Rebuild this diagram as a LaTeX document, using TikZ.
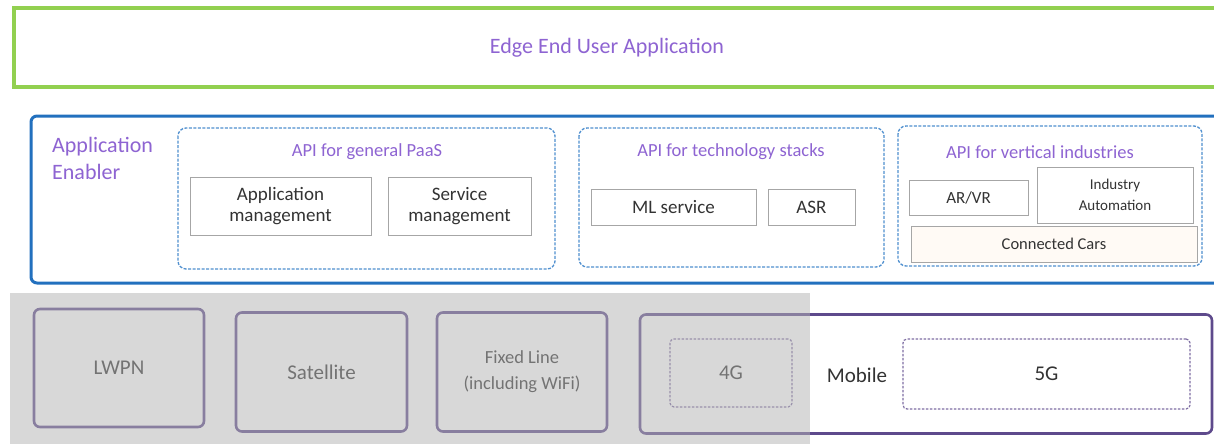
\documentclass[tikz,border=0pt]{standalone}
\usepackage{fontspec}
\setmainfont{Carlito}
\definecolor{edgegreen}{HTML}{92D050}
\definecolor{enblue}{HTML}{2270BE}
\definecolor{dashblue}{HTML}{4F8FCF}
\definecolor{lilac}{HTML}{8E64D2}
\definecolor{boxgray}{HTML}{A6A6A6}
\definecolor{netpurple}{HTML}{5E4A8C}
\definecolor{txt}{HTML}{333333}
\definecolor{overlaygray}{HTML}{B3B3B3}
\begin{document}
\begin{tikzpicture}[x=1pt,y=-1pt,
  greenbox/.style={draw=edgegreen,line width=3.4pt},
  bluebox/.style={draw=enblue,line width=3pt,rounded corners=6pt},
  apibox/.style={draw=dashblue,line width=1.3pt,dash pattern=on 3pt off 1.5pt,rounded corners=8pt},
  itembox/.style={draw=boxgray,line width=0.8pt,fill=white,inner sep=0pt},
  netbox/.style={draw=netpurple,line width=2.6pt,rounded corners=6pt,fill=white,inner sep=0pt},
  netdash/.style={draw=netpurple!80,line width=1.2pt,dash pattern=on 2.5pt off 1.5pt,rounded corners=4pt,fill=white,inner sep=0pt},
  ptitle/.style={text=lilac,font=\fontsize{22}{27}\selectfont},
  ititle/.style={text=lilac,font=\fontsize{18.5}{21}\selectfont},
  itext/.style={text=txt,font=\fontsize{19}{21}\selectfont,align=center},
  stext/.style={text=txt,font=\fontsize{15}{21}\selectfont,align=center},
  ntext/.style={text=txt,font=\fontsize{21}{26}\selectfont,align=center}]
\useasboundingbox (0,0) rectangle (1214,444);
\begin{scope}
\clip (0,0) rectangle (1214,444);
\fill[white] (0,0) rectangle (1214,444);
% top layer
\draw[greenbox] (14,8) rectangle (1240,87);
\node[ptitle] (edge) at (607,48) {Edge End User Application};
% application enabler
\draw[bluebox] (31,116) rectangle (1240,283);
\node[ptitle,align=left,anchor=west,inner sep=0pt] (enabler) at (52,158) {Application\\Enabler};
% API groups
\draw[apibox] (178,128) rectangle (555,269);
\node[ititle] (paas) at (367,152) {API for general PaaS};
\node[itembox,itext,minimum width=181pt,minimum height=58pt] (appm) at (280.5,206) {Application\\management};
\node[itembox,itext,minimum width=143pt,minimum height=58pt] (svcm) at (459.5,206) {Service\\management};
\draw[apibox] (579,128) rectangle (884,267);
\node[ititle] (tech) at (731,152) {API for technology stacks};
\node[itembox,itext,minimum width=165pt,minimum height=36pt] (ml) at (673.5,207) {ML service};
\node[itembox,itext,minimum width=87pt,minimum height=36pt] (asr) at (811.5,207) {ASR};
\draw[apibox] (898,126) rectangle (1202,266);
\node[ititle] (vert) at (1040,152) {API for vertical industries};
\node[itembox,itext,font=\fontsize{17}{20}\selectfont,minimum width=119pt,minimum height=35pt] (arvr) at (968.5,198) {AR/VR};
\node[itembox,stext,minimum width=156pt,minimum height=56pt] (ind) at (1115,195) {Industry\\Automation};
\node[itembox,stext,font=\fontsize{16.5}{20}\selectfont,fill=white!96!orange,minimum width=286pt,minimum height=36pt] (cars) at (1054,244) {Connected Cars};
% network layer
\node[netbox,ntext,minimum width=170pt,minimum height=118pt] (lwpn) at (119,368) {LWPN};
\node[netbox,ntext,minimum width=171pt,minimum height=119pt] (sat) at (321.5,372) {Satellite};
\node[netbox,ntext,font=\fontsize{18.5}{26}\selectfont,minimum width=170pt,minimum height=119pt] (fixed) at (522,372) {Fixed Line\\(including WiFi)};
\node[netbox,minimum width=572pt,minimum height=119pt] (mobile) at (926,374) {};
\node[netdash,ntext,minimum width=122pt,minimum height=68pt] (g4) at (731,373) {4G};
\node[ntext] (mob) at (857,375) {Mobile};
\node[netdash,ntext,minimum width=287pt,minimum height=70pt] (g5) at (1046.5,374) {5G};
% grey overlay
\fill[overlaygray,opacity=0.5] (10,293) rectangle (810,444);
\end{scope}
\end{tikzpicture}
\end{document}
